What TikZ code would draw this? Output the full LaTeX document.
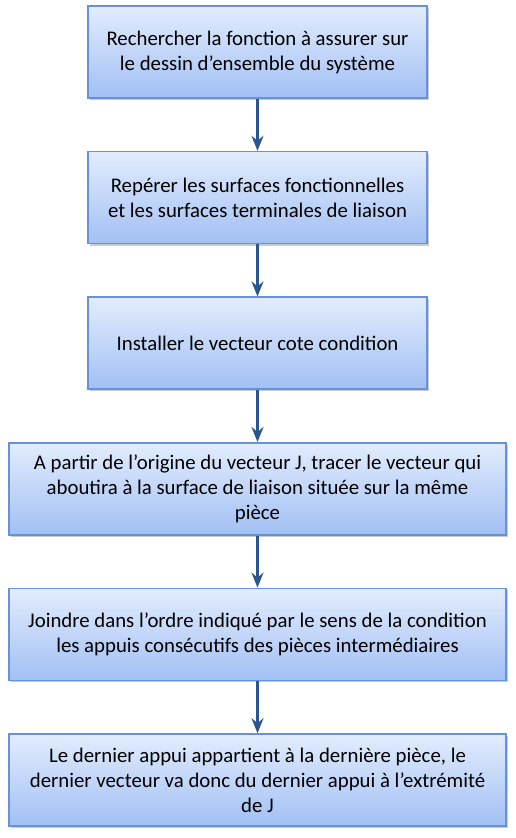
\documentclass[tikz,border=0pt]{standalone}
\usepackage{fontspec}
\setmainfont{Carlito}
\usepackage{tikz}
\usetikzlibrary{positioning}
\usetikzlibrary{arrows.meta}
\usetikzlibrary{shadows}
\definecolor{boxtop}{HTML}{E2ECFD}
\definecolor{boxbottom}{HTML}{A2C0F4}
\definecolor{boxline}{HTML}{6592D9}
\definecolor{arrowblue}{HTML}{2A5590}

\tikzset{
  stepbox/.style={draw=boxline, line width=1.6pt, top color=boxtop, bottom color=boxbottom,
    minimum width=339pt, minimum height=92pt, align=center, inner sep=0pt,
    font=\fontsize{20.8}{25}\selectfont,
    drop shadow={shadow xshift=1.5pt, shadow yshift=-2pt, opacity=0.35, fill=black!60}},
  widebox/.style={stepbox, minimum width=497pt},
  flow/.style={->, draw=arrowblue, line width=3pt}
}

\begin{document}
\begin{tikzpicture}[x=1pt, y=1pt, >={Stealth[length=15pt, width=12pt, inset=5pt]}, node distance=52pt]
    \useasboundingbox (0,0) rectangle (515,-838);
    \node[stepbox] (find) at (257.5,-52) {Rechercher la fonction à assurer sur\\le dessin d’ensemble du système};
    \node[stepbox, below=of find] (mark) {Repérer les surfaces fonctionnelles\\et les surfaces terminales de liaison};
    \node[stepbox, below=of mark] (place) {Installer le vecteur cote condition};
    \node[widebox, below=of place] (trace) {A partir de l’origine du vecteur J, tracer le vecteur qui\\aboutira à la surface de liaison située sur la même\\pièce};
    \node[widebox, below=of trace] (join) {Joindre dans l’ordre indiqué par le sens de la condition\\les appuis consécutifs des pièces intermédiaires};
    \node[widebox, below=of join] (last) {Le dernier appui appartient à la dernière pièce, le\\dernier vecteur va donc du dernier appui à l’extrémité\\de J};
    \draw[flow] (find) -- (mark);
    \draw[flow] (mark) -- (place);
    \draw[flow] (place) -- (trace);
    \draw[flow] (trace) -- (join);
    \draw[flow] (join) -- (last);
\end{tikzpicture}
\end{document}
